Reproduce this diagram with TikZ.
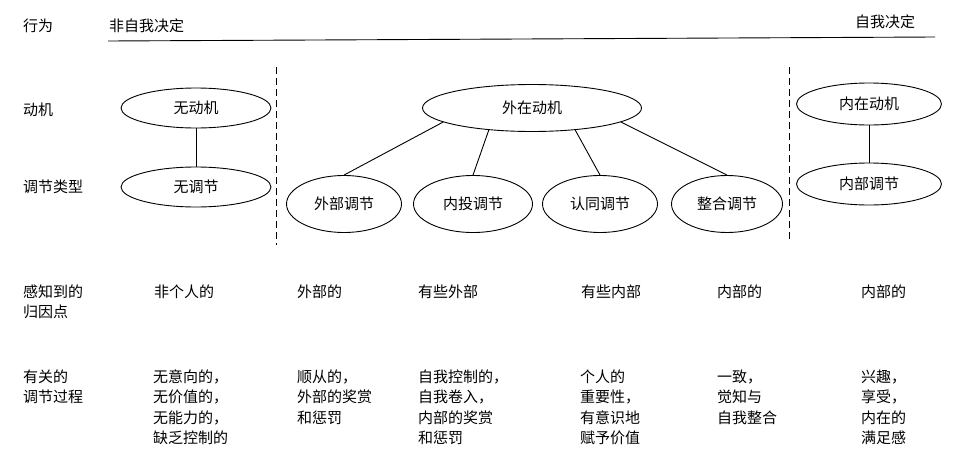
\documentclass[tikz,border=0pt]{standalone}
\usepackage{fontspec}
\newfontfamily\cjk{Noto Sans CJK SC}
\usetikzlibrary{shapes.geometric}
\begin{document}
\begin{tikzpicture}[x=1pt,y=-1pt,
  txt/.style={font=\cjk\fontsize{15}{20.5}\selectfont, inner sep=0pt, align=left, anchor=north west},
  lbl/.style={font=\cjk\fontsize{15}{20.5}\selectfont, inner sep=0pt, anchor=west},
  ell/.style={draw, ellipse, line width=0.9pt, inner sep=0pt, font=\cjk\fontsize{15}{18}\selectfont},
  conn/.style={line width=0.9pt},
  divider/.style={line width=0.9pt, dash pattern=on 7pt off 4pt}]
\useasboundingbox[fill=white] (0,0) rectangle (968,450);

% top row
\node[lbl] (hw) at (23,26) {行为};
\node[lbl] (fz) at (109,26) {非自我决定};
\node[lbl] (zw) at (855,22) {自我决定};
\coordinate (ls) at (108,41);
\coordinate (le) at (935,37);
\draw[conn] (ls) -- (le);

% dividers
\coordinate (d1a) at (276,67);
\coordinate (d1b) at (276,245);
\coordinate (d2a) at (789,67);
\coordinate (d2b) at (789,242);
\draw[divider] (d1a) -- (d1b);
\draw[divider] (d2a) -- (d2b);

% row labels
\node[lbl] (l1) at (23,110) {动机};
\node[lbl] (l2) at (23,187) {调节类型};
\node[txt] (l3) at (23,284.5) {感知到的\\归因点};
\node[txt] (l4) at (23,369.5) {有关的\\调节过程};

% ellipses
\node[ell, minimum width=150pt, minimum height=40pt] (am) at (196,108) {无动机};
\node[ell, minimum width=150pt, minimum height=40pt] (ar) at (196,187) {无调节};
\node[ell, minimum width=219pt, minimum height=47pt] (ext) at (532,108) {外在动机};
\node[ell, minimum width=115pt, minimum height=57pt] (r1) at (344,204) {外部调节};
\node[ell, minimum width=119pt, minimum height=57pt] (r2) at (473,204) {内投调节};
\node[ell, minimum width=115pt, minimum height=57pt] (r3) at (600,204) {认同调节};
\node[ell, minimum width=111pt, minimum height=57pt] (r4) at (727,204) {整合调节};
\node[ell, minimum width=145pt, minimum height=42pt] (im) at (869,104) {内在动机};
\node[ell, minimum width=145pt, minimum height=42pt] (ir) at (869,184) {内部调节};

% connectors
\draw[conn] (am) -- (ar);
\draw[conn] (im) -- (ir);
\draw[conn] (ext.189) -- (r1.north);
\draw[conn] (ext.207) -- (r2.north);
\draw[conn] (ext.333) -- (r3.north);
\draw[conn] (ext.351) -- (r4.north);

% perceived locus row
\node[lbl] (p1) at (154,292) {非个人的};
\node[lbl] (p2) at (297,292) {外部的};
\node[lbl] (p3) at (418,292) {有些外部};
\node[lbl] (p4) at (581,292) {有些内部};
\node[lbl] (p5) at (717,292) {内部的};
\node[lbl] (p6) at (861,292) {内部的};

% processes row
\node[txt] (q1) at (153,369.5) {无意向的，\\无价值的，\\无能力的，\\缺乏控制的};
\node[txt] (q2) at (297,369.5) {顺从的，\\外部的奖赏\\和惩罚};
\node[txt] (q3) at (418,369.5) {自我控制的，\\自我卷入，\\内部的奖赏\\和惩罚};
\node[txt] (q4) at (580,369.5) {个人的\\重要性，\\有意识地\\赋予价值};
\node[txt] (q5) at (717,369.5) {一致，\\觉知与\\自我整合};
\node[txt] (q6) at (861,369.5) {兴趣，\\享受，\\内在的\\满足感};
\end{tikzpicture}
\end{document}
